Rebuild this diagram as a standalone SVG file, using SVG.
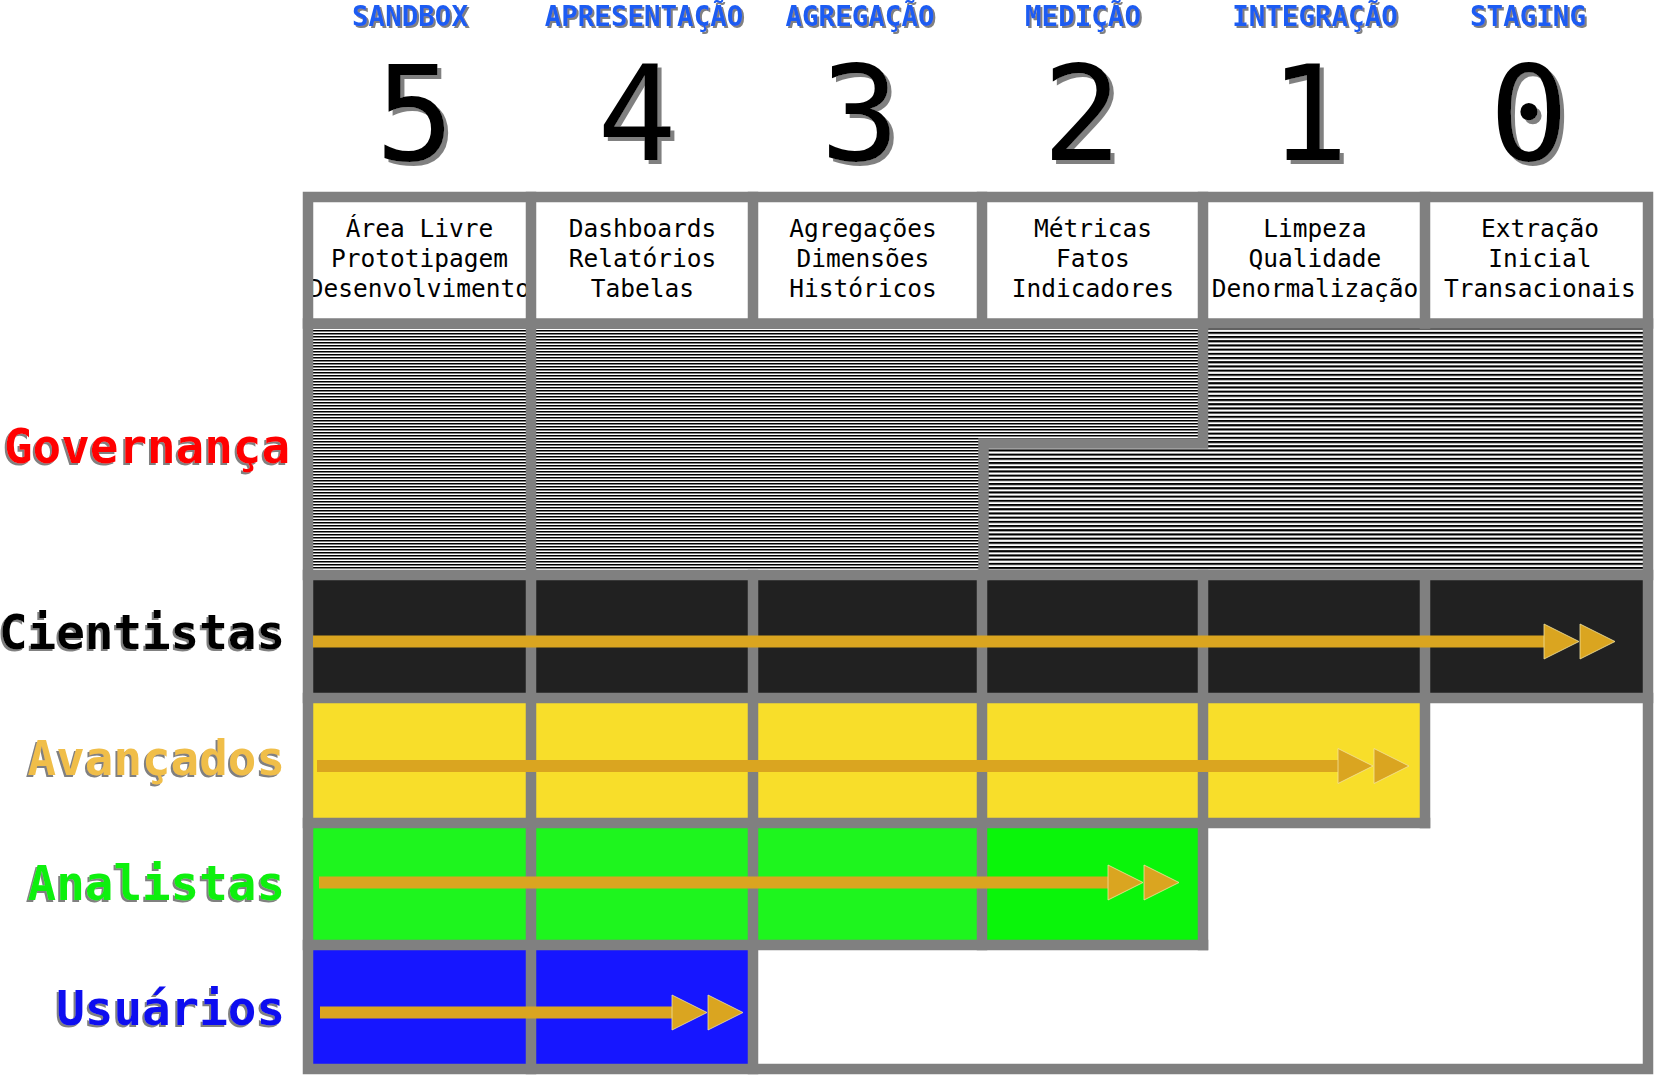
<svg xmlns="http://www.w3.org/2000/svg" width="1657" height="1080" viewBox="0 0 1657 1080">
<defs>
<style>
.title{font-family:"DejaVu Sans Mono",monospace;font-weight:bold;font-size:27.5px;fill:#1c5cf2;text-anchor:middle}
.num{font-family:"DejaVu Sans Mono",monospace;font-size:132px;fill:#000;text-anchor:middle}
.cell{font-family:"DejaVu Sans Mono",monospace;font-size:24.5px;fill:#000;text-anchor:middle}
.lab{font-family:"DejaVu Sans Mono",monospace;font-weight:bold;font-size:47.5px;text-anchor:end}
.grid{fill:none;stroke:#808080;stroke-width:10.5;stroke-linecap:square}
.shaft{stroke:#daa520;stroke-width:12;fill:none}
.blk{fill:#212121}
.yel{fill:#f8de2a}
.grn{fill:#1ef51e}
.blu{fill:#1616ff}
</style>
<filter id="sh2" x="-5%" y="-20%" width="110%" height="140%">
<feOffset in="SourceAlpha" dx="2" dy="2" result="o"/>
<feFlood flood-color="#808080"/>
<feComposite in2="o" operator="in" result="s"/>
<feMerge><feMergeNode in="s"/><feMergeNode in="SourceGraphic"/></feMerge>
</filter>
<filter id="sh4" x="-20%" y="-10%" width="140%" height="120%">
<feOffset in="SourceAlpha" dx="4" dy="4" result="o"/>
<feFlood flood-color="#808080"/>
<feComposite in2="o" operator="in" result="s"/>
<feMerge><feMergeNode in="s"/><feMergeNode in="SourceGraphic"/></feMerge>
</filter>
<filter id="shl" x="-5%" y="-20%" width="110%" height="140%">
<feOffset in="SourceAlpha" dx="-2" dy="2" result="o"/>
<feFlood flood-color="#808080"/>
<feComposite in2="o" operator="in" result="s"/>
<feMerge><feMergeNode in="s"/><feMergeNode in="SourceGraphic"/></feMerge>
</filter>
<pattern id="fine" patternUnits="userSpaceOnUse" width="12" height="3">
<rect width="12" height="3" fill="#fff"/>
<rect width="12" height="1.5" fill="#000"/>
</pattern>
<pattern id="coarse" patternUnits="userSpaceOnUse" width="12" height="4.2">
<rect width="12" height="4.2" fill="#fff"/>
<rect width="12" height="2.1" fill="#000"/>
</pattern>
<marker id="dbl" markerUnits="userSpaceOnUse" markerWidth="72" markerHeight="36" viewBox="0 0 72 36" refX="0" refY="17.5" orient="auto" overflow="visible">
<path d="M0,0 L35,17.5 L0,35 Z M36,0 L71,17.5 L36,35 Z" fill="#daa520" stroke="#f3e3a0" stroke-width="0.8"/>
</marker>
</defs>
<rect width="1657" height="1080" fill="#fff"/>

<g id="titles">
<text class="title" x="410" y="26" filter="url(#sh2)">SANDBOX</text>
<text class="title" x="644" y="26" filter="url(#sh2)">APRESENTAÇÃO</text>
<text class="title" x="860" y="26" filter="url(#sh2)">AGREGAÇÃO</text>
<text class="title" x="1083" y="26" filter="url(#sh2)">MEDIÇÃO</text>
<text class="title" x="1315" y="26" filter="url(#sh2)">INTEGRAÇÃO</text>
<text class="title" x="1528" y="26" filter="url(#sh2)">STAGING</text>
</g>
<g id="numbers">
<text class="num" x="415" y="160" filter="url(#sh4)">5</text>
<text class="num" x="637" y="160" filter="url(#sh4)">4</text>
<text class="num" x="860" y="160" filter="url(#sh4)">3</text>
<text class="num" x="1082" y="160" filter="url(#sh4)">2</text>
<text class="num" x="1309" y="160" filter="url(#sh4)">1</text>
<text class="num" x="1529" y="160" filter="url(#sh4)">0</text>
</g>

<g id="labels">
<text class="lab" x="290" y="463" fill="#ff0000" filter="url(#shl)">Governança</text>
<text class="lab" x="285" y="649" fill="#000" filter="url(#shl)">Cientistas</text>
<text class="lab" x="285" y="775" fill="#f0be48" filter="url(#shl)">Avançados</text>
<text class="lab" x="285" y="900" fill="#10f010" filter="url(#shl)">Analistas</text>
<text class="lab" x="285" y="1025" fill="#0a0af0" filter="url(#shl)">Usuários</text>
</g>

<g id="header-cells">
<g id="h5"><text class="cell" x="419.5" y="237">Área Livre<tspan x="419.5" dy="30">Prototipagem</tspan><tspan x="419.5" dy="30">Desenvolvimento</tspan></text></g>
<g id="h4"><text class="cell" x="642.5" y="237">Dashboards<tspan x="642.5" dy="30">Relatórios</tspan><tspan x="642.5" dy="30">Tabelas</tspan></text></g>
<g id="h3"><text class="cell" x="863" y="237">Agregações<tspan x="863" dy="30">Dimensões</tspan><tspan x="863" dy="30">Históricos</tspan></text></g>
<g id="h2"><text class="cell" x="1093" y="237">Métricas<tspan x="1093" dy="30">Fatos</tspan><tspan x="1093" dy="30">Indicadores</tspan></text></g>
<g id="h1"><text class="cell" x="1315" y="237">Limpeza<tspan x="1315" dy="30">Qualidade</tspan><tspan x="1315" dy="30">Denormalização</tspan></text></g>
<g id="h0"><text class="cell" x="1540" y="237">Extração<tspan x="1540" dy="30">Inicial</tspan><tspan x="1540" dy="30">Transacionais</tspan></text></g>
</g>

<g id="governanca">
<rect x="308" y="323" width="223" height="252" fill="url(#fine)"/>
<path d="M531,323 H1203 V443.5 H983 V575 H531 Z" fill="url(#fine)"/>
<path d="M1203,323 H1648 V575 H983 V443.5 H1203 Z" fill="url(#coarse)"/>
</g>

<g id="cientistas-row">
<rect class="blk" x="308" y="575" width="1340" height="123"/>
</g>
<g id="avancados-row">
<rect class="yel" x="308" y="698" width="1117" height="125"/>
</g>
<g id="analistas-row">
<rect class="grn" x="308" y="823" width="674" height="122"/>
<rect x="982" y="823" width="221" height="122" fill="#0af50a"/>
</g>
<g id="usuarios-row">
<rect class="blu" x="308" y="945" width="445" height="124"/>
</g>

<g id="grid">
<rect class="grid" x="308" y="197" width="1340" height="872"/>
<path class="grid" d="M308,323.5 H1648 M308,575 H1648 M308,698 H1648 M308,823 H1425 M308,945 H1203"/>
<path class="grid" d="M531,197 V323.5 M753,197 V323.5 M982,197 V323.5 M1203,197 V323.5 M1425,197 V323.5"/>
<path class="grid" d="M531,323.5 V575 M1203,323.5 V443.5 H983.5 V575"/>
<path class="grid" d="M531,575 V1069 M753,575 V1069 M982,575 V945 M1203,575 V945 M1425,575 V823"/>
</g>

<g id="connectors">
<line class="shaft" x1="313" y1="641.5" x2="1544" y2="641.5" marker-end="url(#dbl)"/>
<line class="shaft" x1="317" y1="766" x2="1338" y2="766" marker-end="url(#dbl)"/>
<line class="shaft" x1="319" y1="882.5" x2="1108" y2="882.5" marker-end="url(#dbl)"/>
<line class="shaft" x1="320" y1="1012.5" x2="672" y2="1012.5" marker-end="url(#dbl)"/>
</g>
</svg>
